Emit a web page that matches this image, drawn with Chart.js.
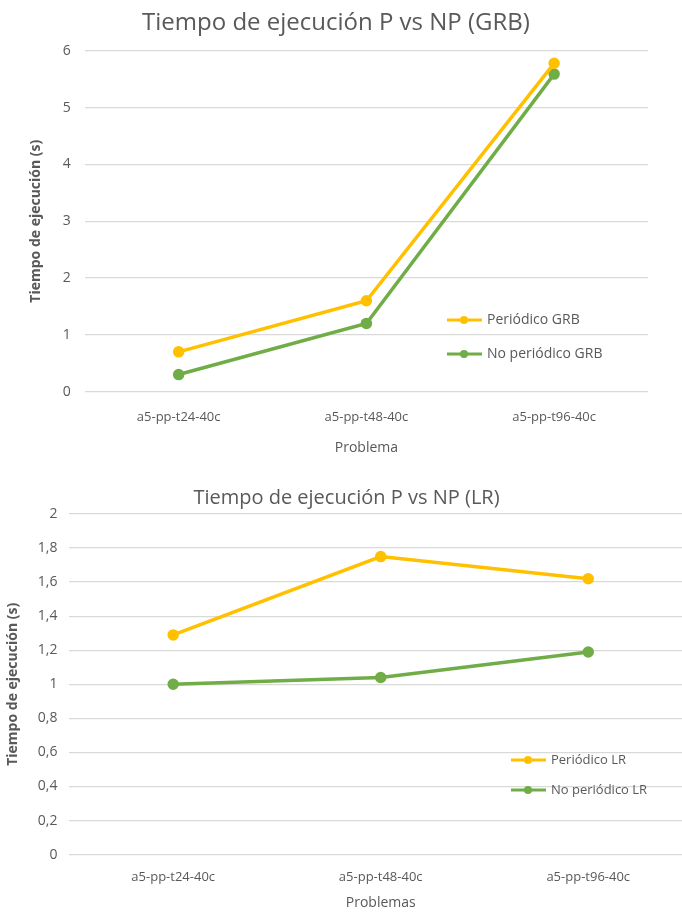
<!DOCTYPE html>
<html>
<head>
<meta charset="utf-8">
<script src="https://cdn.jsdelivr.net/npm/chart.js@4.4.1/dist/chart.umd.min.js"></script>
<style>
  body { margin: 0; background: #fff; overflow: hidden; }
  canvas { display: block; }
</style>
</head>
<body>
<canvas id="grb" width="682" height="460"></canvas>
<canvas id="lr" width="700" height="455"></canvas>
<script>
// data
var problemas = ['a5-pp-t24-40c', 'a5-pp-t48-40c', 'a5-pp-t96-40c'];
var periodicoGRB = [0.70, 1.60, 5.78];
var noPeriodicoGRB = [0.30, 1.20, 5.59];
var periodicoLR = [1.29, 1.75, 1.62];
var noPeriodicoLR = [1.00, 1.04, 1.19];

var AMARILLO = '#FFC000';
var VERDE = '#70AD47';
var GRIS = '#595959';
var FUENTE = "'Open Sans', sans-serif";

// legend drawn inside the plot area
var leyendaDentro = {
  id: 'leyendaDentro',
  afterDraw: function(chart, args, opts) {
    var ctx = chart.ctx;
    ctx.save();
    chart.data.datasets.forEach(function(ds, i) {
      var y = opts.y + i * opts.gap;
      ctx.strokeStyle = ds.borderColor;
      ctx.lineWidth = 3;
      ctx.beginPath();
      ctx.moveTo(opts.x, y);
      ctx.lineTo(opts.x + 35, y);
      ctx.stroke();
      ctx.fillStyle = ds.borderColor;
      ctx.beginPath();
      ctx.arc(opts.x + 17, y, 4, 0, Math.PI * 2);
      ctx.fill();
      ctx.fillStyle = GRIS;
      ctx.font = opts.size + 'px ' + FUENTE;
      ctx.textBaseline = 'middle';
      ctx.fillText(ds.label, opts.x + 40, y);
    });
    ctx.restore();
  }
};

function hacerGrafico(id, c) {
  return new Chart(document.getElementById(id), {
    type: 'line',
    data: {
      labels: problemas,
      datasets: [
        { label: c.etiquetas[0], data: c.p, borderColor: AMARILLO, backgroundColor: AMARILLO,
          borderWidth: 3.5, pointRadius: 4, pointHoverRadius: 4, tension: 0 },
        { label: c.etiquetas[1], data: c.np, borderColor: VERDE, backgroundColor: VERDE,
          borderWidth: 3.5, pointRadius: 4, pointHoverRadius: 4, tension: 0 }
      ]
    },
    plugins: [leyendaDentro],
    options: {
      responsive: false,
      animation: false,
      layout: { padding: c.padding },
      plugins: {
        legend: { display: false },
        tooltip: { enabled: false },
        title: {
          display: true, text: c.titulo, color: GRIS,
          font: { family: FUENTE, size: c.tSize, weight: 'normal' },
          padding: { top: 4, bottom: c.tBottom }
        },
        leyendaDentro: c.leyenda
      },
      scales: {
        x: {
          offset: true,
          grid: { display: false },
          border: { display: false },
          ticks: { color: GRIS, font: { family: FUENTE, size: 13 }, padding: c.xPad },
          title: { display: true, text: c.xTitulo, color: GRIS, font: { family: FUENTE, size: 14 }, padding: { top: c.xtPad } }
        },
        y: {
          min: 0, max: c.yMax,
          grid: { color: '#D9D9D9', lineWidth: 1.3, drawTicks: false },
          border: { display: false },
          ticks: {
            stepSize: c.paso, color: GRIS, font: { family: FUENTE, size: 14 }, padding: c.yPad,
            callback: function(v) { return c.coma ? String(Math.round(v * 10) / 10).replace('.', ',') : v; }
          },
          title: { display: true, text: 'Tiempo de ejecución (s)', color: GRIS, font: { family: FUENTE, size: 14, weight: 'bold' } }
        }
      }
    }
  });
}

hacerGrafico('grb', {
  titulo: 'Tiempo de ejecución P vs NP (GRB)', xTitulo: 'Problema',
  p: periodicoGRB, np: noPeriodicoGRB, etiquetas: ['Periódico GRB', 'No periódico GRB'],
  yMax: 6, paso: 1, coma: false, tSize: 24, tBottom: 13, xPad: 10, xtPad: 4, yPad: 14,
  leyenda: { x: 447, y: 320, gap: 34, size: 14 },
  padding: { left: 24, right: 34, top: 5, bottom: 0 }
});

hacerGrafico('lr', {
  titulo: 'Tiempo de ejecución P vs NP (LR)', xTitulo: 'Problemas',
  p: periodicoLR, np: noPeriodicoLR, etiquetas: ['Periódico LR', 'No periódico LR'],
  yMax: 2, paso: 0.2, coma: true, tSize: 20, tBottom: 4, xPad: 7, xtPad: 2, yPad: 12,
  leyenda: { x: 511, y: 300, gap: 30, size: 13 },
  padding: { left: 1, right: 8, top: 22, bottom: 0 }
});
</script>
</body>
</html>
